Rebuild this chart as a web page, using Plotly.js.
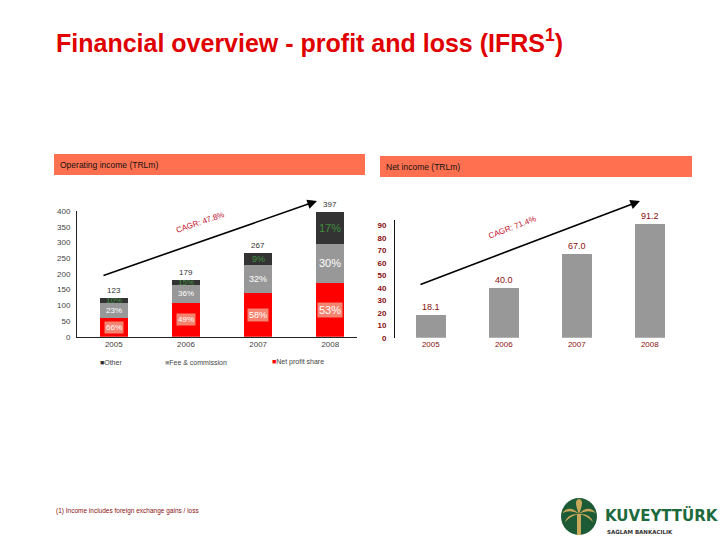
<!DOCTYPE html>
<html>
<head>
<meta charset="utf-8">
<script src="https://cdn.plot.ly/plotly-3.0.1.min.js"></script>
<style>html,body{margin:0;padding:0;background:#fff;}#chart{width:720px;height:540px;}</style>
</head>
<body>
<div id="chart"></div>
<script>
// ---- data ----
const years = ['2005', '2006', '2007', '2008'];
const netProfitShare = [60, 108, 138, 172];
const feeCommission = [46, 57, 90, 123];
const otherIncome = [17, 14, 39, 102];
const totals = [123, 179, 267, 397];
const nspLabels = ['66%', '49%', '58%', '53%'];
const feeLabels = ['23%', '36%', '32%', '30%'];
const otherLabels = ['10%', '15%', '9%', '17%'];
const netIncome = [18.1, 40.0, 67.0, 91.2];
const netIncomeLabels = ['18.1', '40.0', '67.0', '91.2'];
const leftTicks = [0, 50, 100, 150, 200, 250, 300, 350, 400];
const rightTicks = [0, 10, 20, 30, 40, 50, 60, 70, 80, 90];

const W = 720, H = 540;
const px = v => v / W;
const py = v => 1 - v / H;
const FONT = 'Liberation Sans, Arial, sans-serif';
const DARKRED = '#8a1010';

const traces = [
  {type: 'bar', x: years.map((_, i) => i), y: netProfitShare, name: 'Net profit share',
   marker: {color: '#ff0000'}, width: 0.39, xaxis: 'x', yaxis: 'y', hoverinfo: 'skip'},
  {type: 'bar', x: years.map((_, i) => i), y: feeCommission, name: 'Fee & commission',
   marker: {color: '#989898'}, width: 0.39, xaxis: 'x', yaxis: 'y', hoverinfo: 'skip'},
  {type: 'bar', x: years.map((_, i) => i), y: otherIncome, name: 'Other',
   marker: {color: '#333333'}, width: 0.39, xaxis: 'x', yaxis: 'y', hoverinfo: 'skip'},
  {type: 'bar', x: years.map((_, i) => i), y: netIncome, name: 'Net income',
   marker: {color: '#989898'}, width: 0.41, xaxis: 'x2', yaxis: 'y2',
   text: netIncomeLabels, textposition: 'outside', cliponaxis: false,
   textfont: {family: FONT, size: 9, color: DARKRED}, hoverinfo: 'skip'}
];

const annotations = [];
function ann(o) {
  annotations.push(Object.assign({xanchor: 'center', yanchor: 'middle', showarrow: false}, o));
}
const labelSizes = [8, 8, 9, 11];
years.forEach((yr, i) => {
  const s = labelSizes[i];
  ann({xref: 'x', yref: 'y', x: i, y: netProfitShare[i] / 2, text: nspLabels[i],
    font: {family: FONT, size: s, color: '#ffffff'}, bgcolor: '#f4836f', borderpad: 1});
  ann({xref: 'x', yref: 'y', x: i, y: netProfitShare[i] + feeCommission[i] / 2, text: feeLabels[i],
    font: {family: FONT, size: s, color: '#ffffff'}});
  ann({xref: 'x', yref: 'y', x: i, y: netProfitShare[i] + feeCommission[i] + otherIncome[i] / 2,
    text: otherLabels[i], font: {family: FONT, size: s, color: '#3f8f3f'}});
  ann({xref: 'x', yref: 'y', x: i, y: totals[i], yanchor: 'bottom', yshift: 1, text: String(totals[i]),
    font: {family: FONT, size: 8, color: '#333333'}});
});

// arrows and CAGR labels
annotations.push({xref: 'paper', yref: 'paper', x: px(317), y: py(201), ax: -215, ay: 75,
  text: '', showarrow: true, arrowhead: 2, arrowsize: 1.2, arrowwidth: 1.6, arrowcolor: '#000'});
annotations.push({xref: 'paper', yref: 'paper', x: px(640), y: py(201), ax: -221, ay: 84,
  text: '', showarrow: true, arrowhead: 2, arrowsize: 1.2, arrowwidth: 1.6, arrowcolor: '#000'});
ann({xref: 'paper', yref: 'paper', x: px(200), y: py(222), text: 'CAGR: 47.8%',
  textangle: -19, font: {family: FONT, size: 8, color: '#c0102a'}});
ann({xref: 'paper', yref: 'paper', x: px(512), y: py(227), text: 'CAGR: 71.4%',
  textangle: -21, font: {family: FONT, size: 8, color: '#c0102a'}});

// header texts
ann({xref: 'paper', yref: 'paper', x: px(58), y: py(165), xanchor: 'left', text: 'Operating income (TRLm)',
  font: {family: FONT, size: 8.5, color: '#111'}});
ann({xref: 'paper', yref: 'paper', x: px(384), y: py(167), xanchor: 'left', text: 'Net income (TRLm)',
  font: {family: FONT, size: 8.5, color: '#111'}});

// legend
const legendItems = [['Other', '#333333', 98], ['Fee & commission', '#989898', 163], ['Net profit share', '#ff0000', 270]];
legendItems.forEach(([t, c, x]) => {
  ann({xref: 'paper', yref: 'paper', x: px(x), y: py(362), xanchor: 'left',
    text: '<span style="color:' + c + '">■</span>' + t,
    font: {family: FONT, size: 7, color: '#444'}});
});

// title
ann({xref: 'paper', yref: 'paper', x: px(54), y: py(41), xanchor: 'left',
  text: '<b>Financial overview - profit and loss (IFRS<sup>1</sup>)</b>',
  font: {family: FONT, size: 25, color: '#e00000'}});

// footnote
ann({xref: 'paper', yref: 'paper', x: px(54), y: py(511), xanchor: 'left',
  text: '(1) Income includes foreign exchange gains / loss',
  font: {family: FONT, size: 6.5, color: DARKRED}});

// logo texts
ann({xref: 'paper', yref: 'paper', x: px(603), y: py(515), xanchor: 'left',
  text: '<b>KUVEYTTÜRK</b>', font: {family: 'DejaVu Sans, sans-serif', size: 15, color: '#1d6a3c'}});
ann({xref: 'paper', yref: 'paper', x: px(605), y: py(531), xanchor: 'left',
  text: '<b>SAĞLAM BANKACILIK</b>', font: {family: 'DejaVu Sans, sans-serif', size: 5.5, color: '#333'}});

const shapes = [
  {type: 'rect', xref: 'paper', yref: 'paper', x0: px(54), x1: px(365), y0: py(154), y1: py(175),
   fillcolor: '#ff7050', line: {width: 0}, layer: 'below'},
  {type: 'rect', xref: 'paper', yref: 'paper', x0: px(380), x1: px(692), y0: py(156), y1: py(177),
   fillcolor: '#ff7050', line: {width: 0}, layer: 'below'},
  // logo circle
  {type: 'circle', xref: 'paper', yref: 'paper', x0: px(561), x1: px(597), y0: py(535), y1: py(498),
   fillcolor: '#1d5a36', line: {width: 0}},
  // palm trunk
  {type: 'rect', xref: 'paper', yref: 'paper', x0: px(577), x1: px(581), y0: py(535), y1: py(514),
   fillcolor: '#c9a85a', line: {width: 0}},
  // palm leaves
  {type: 'path', xref: 'paper', yref: 'paper',
   path: `M ${px(579)} ${py(514)} Q ${px(570)} ${py(504)} ${px(562)} ${py(513)} Q ${px(571)} ${py(509)} ${px(579)} ${py(514)} Z`,
   fillcolor: '#c9a85a', line: {width: 0}},
  {type: 'path', xref: 'paper', yref: 'paper',
   path: `M ${px(579)} ${py(514)} Q ${px(588)} ${py(504)} ${px(596)} ${py(513)} Q ${px(587)} ${py(509)} ${px(579)} ${py(514)} Z`,
   fillcolor: '#c9a85a', line: {width: 0}},
  {type: 'path', xref: 'paper', yref: 'paper',
   path: `M ${px(579)} ${py(514)} Q ${px(573)} ${py(500)} ${px(579)} ${py(499)} Q ${px(585)} ${py(500)} ${px(579)} ${py(514)} Z`,
   fillcolor: '#c9a85a', line: {width: 0}},
  {type: 'path', xref: 'paper', yref: 'paper',
   path: `M ${px(579)} ${py(514)} Q ${px(568)} ${py(513)} ${px(565)} ${py(522)} Q ${px(572)} ${py(515)} ${px(579)} ${py(514)} Z`,
   fillcolor: '#c9a85a', line: {width: 0}},
  {type: 'path', xref: 'paper', yref: 'paper',
   path: `M ${px(579)} ${py(514)} Q ${px(590)} ${py(513)} ${px(593)} ${py(522)} Q ${px(586)} ${py(515)} ${px(579)} ${py(514)} Z`,
   fillcolor: '#c9a85a', line: {width: 0}}
];

const layout = {
  width: W, height: H,
  margin: {l: 0, r: 0, t: 0, b: 0},
  paper_bgcolor: '#ffffff', plot_bgcolor: 'rgba(0,0,0,0)',
  showlegend: false,
  barmode: 'stack',
  xaxis: {domain: [px(77), px(357)], range: [-0.51, 3.37], tickvals: [0, 1, 2, 3], ticktext: years,
    showgrid: false, zeroline: false, showline: true, linecolor: '#222', linewidth: 1, ticks: '',
    tickfont: {family: FONT, size: 8, color: '#444'}, anchor: 'y', fixedrange: true},
  yaxis: {domain: [py(336.7), py(211)], range: [0, 400], tickvals: leftTicks,
    showgrid: false, zeroline: false, showline: true, linecolor: '#222', linewidth: 1, ticks: '',
    tickfont: {family: FONT, size: 8, color: '#444'}, anchor: 'x', ticklabelstandoff: 4},
  xaxis2: {domain: [px(395), px(687)], range: [-0.49, 3.51], tickvals: [0, 1, 2, 3], ticktext: years,
    showgrid: false, zeroline: false, showline: false, ticks: '',
    tickfont: {family: FONT, size: 8, color: DARKRED}, anchor: 'y2'},
  yaxis2: {domain: [py(337.7), py(220)], range: [0, 94.3], tickvals: rightTicks,
    showgrid: false, zeroline: false, showline: true, linecolor: '#111', linewidth: 1, ticks: '',
    tickfont: {family: FONT, size: 8, color: DARKRED, weight: 'bold'}, anchor: 'x2', ticklabelstandoff: 6},
  annotations: annotations,
  shapes: shapes
};

Plotly.newPlot('chart', traces, layout, {staticPlot: true, displayModeBar: false});
</script>
</body>
</html>
